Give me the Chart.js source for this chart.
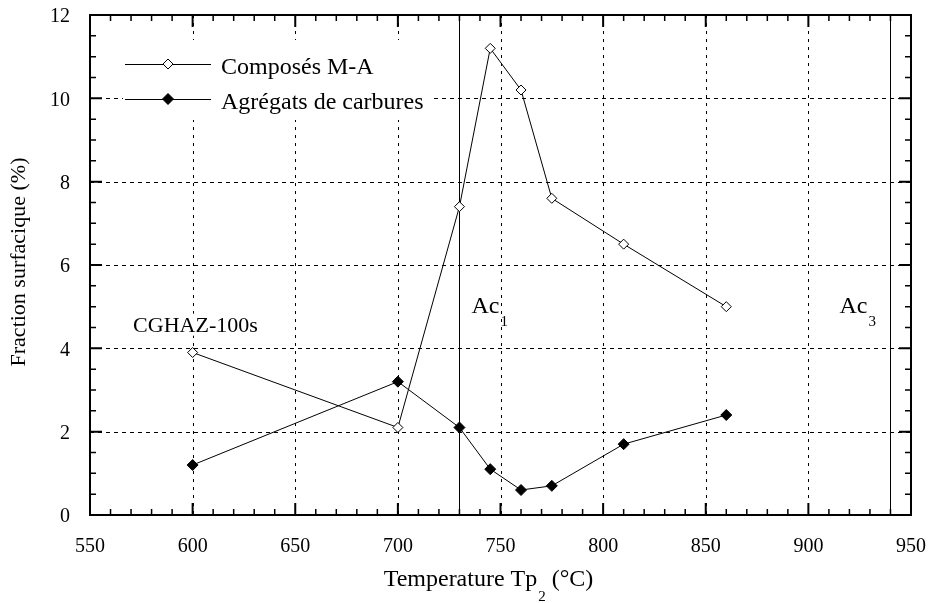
<!DOCTYPE html>
<html>
<head>
<meta charset="utf-8">
<script src="https://cdn.jsdelivr.net/npm/chart.js@4/dist/chart.umd.min.js"></script>
<style>
html,body{margin:0;padding:0;background:#fff;}
canvas{display:block;}
</style>
</head>
<body>
<canvas id="c" width="929" height="603"></canvas>
<script>
// ---- data ----
const temperatures = [600, 700, 730, 745, 760, 775, 810, 860];
const composesMA   = [3.9, 2.1, 7.4, 11.2, 10.2, 7.6, 6.5, 5.0];
const agregats     = [1.2, 3.2, 2.1, 1.1, 0.6, 0.7, 1.7, 2.4];
const transformTemps = [730, 940];           // Ac1, Ac3
const transformNames = ['Ac', 'Ac'];
const transformSubs  = ['1', '3'];
const seriesNames = ['Composés M-A', 'Agrégats de carbures'];
const xTitle = 'Temperature Tp';
const xTitleSub = '2';
const xTitleEnd = ' (°C)';
const yTitle = 'Fraction surfacique (%)';
const sampleLabel = 'CGHAZ-100s';

const SERIF = '"Liberation Serif", "DejaVu Serif", serif';

const toPts = (xs, ys) => xs.map((x, i) => ({x: x, y: ys[i]}));

const framePlugin = {
  id: 'frame',
  beforeDatasetsDraw(chart) {
    const {ctx, chartArea: a, scales: {x, y}} = chart;
    ctx.save();
    ctx.strokeStyle = '#000';
    ctx.lineWidth = 1;
    ctx.setLineDash([3, 5]);
    x.ticks.forEach(t => {
      if (t.value <= x.min || t.value >= x.max) return;
      const px = Math.round(x.getPixelForValue(t.value)) + 0.5;
      ctx.beginPath(); ctx.moveTo(px, a.top); ctx.lineTo(px, a.bottom); ctx.stroke();
    });
    ctx.setLineDash([4, 4]);
    y.ticks.forEach(t => {
      if (t.value <= y.min || t.value >= y.max) return;
      const py = Math.round(y.getPixelForValue(t.value)) + 0.5;
      ctx.beginPath(); ctx.moveTo(a.left, py); ctx.lineTo(a.right, py); ctx.stroke();
    });
    ctx.setLineDash([]);
    transformTemps.forEach(T => {
      const px = Math.round(x.getPixelForValue(T)) + 0.5;
      ctx.beginPath(); ctx.moveTo(px, a.top); ctx.lineTo(px, a.bottom); ctx.stroke();
    });
    // white backing for the sample label and the legend
    ctx.font = '22px ' + SERIF;
    const cx = x.getPixelForValue(571), cy = y.getPixelForValue(4.4);
    const cw = ctx.measureText(sampleLabel).width;
    ctx.fillStyle = '#fff';
    ctx.fillRect(cx - 2, cy - 18, cw + 4, 22);
    ctx.fillRect(123, 40, 310, 80);
    ctx.restore();
  },
  afterDatasetsDraw(chart) {
    const {ctx, chartArea: a, scales: {x, y}} = chart;
    ctx.save();
    ctx.strokeStyle = '#000';
    // inside tick marks (minor every 10 / 0.5)
    for (let v = x.min; v <= x.max + 1e-9; v += 10) {
      const major = Math.abs(v % 50) < 1e-9;
      const len = major ? 12 : 6;
      ctx.lineWidth = major ? 2 : 1.5;
      const px = x.getPixelForValue(v);
      ctx.beginPath();
      ctx.moveTo(px, a.bottom); ctx.lineTo(px, a.bottom - len);
      ctx.moveTo(px, a.top); ctx.lineTo(px, a.top + len);
      ctx.stroke();
    }
    for (let v = y.min; v <= y.max + 1e-9; v += 0.5) {
      const major = Math.abs(v % 2) < 1e-9;
      const len = major ? 12 : 6;
      ctx.lineWidth = major ? 2 : 1.5;
      const py = y.getPixelForValue(v);
      ctx.beginPath();
      ctx.moveTo(a.left, py); ctx.lineTo(a.left + len, py);
      ctx.moveTo(a.right, py); ctx.lineTo(a.right - len, py);
      ctx.stroke();
    }
    ctx.lineWidth = 2;
    ctx.strokeRect(a.left, a.top, a.right - a.left, a.bottom - a.top);

    ctx.fillStyle = '#000';
    // tick labels from the scales
    ctx.font = '20px ' + SERIF;
    ctx.textAlign = 'center';
    ctx.textBaseline = 'middle';
    x.ticks.forEach(t => {
      ctx.fillText(String(t.value), x.getPixelForValue(t.value), a.bottom + 32);
    });
    ctx.textAlign = 'right';
    y.ticks.forEach(t => {
      ctx.fillText(String(t.value), a.left - 20, y.getPixelForValue(t.value) + 2);
    });

    // axis titles
    ctx.textBaseline = 'alphabetic';
    ctx.font = '24px ' + SERIF;
    const w1 = ctx.measureText(xTitle).width;
    ctx.font = '15px ' + SERIF;
    const w2 = ctx.measureText(xTitleSub).width;
    ctx.font = '24px ' + SERIF;
    const w3 = ctx.measureText(xTitleEnd).width;
    const total = w1 + w2 + w3 + 1;
    const sx = (a.left + a.right) / 2 - 12 - total / 2;
    const by = 586;
    ctx.textAlign = 'left';
    ctx.fillText(xTitle, sx, by);
    ctx.font = '15px ' + SERIF;
    ctx.fillText(xTitleSub, sx + w1 + 1, by + 15);
    ctx.font = '24px ' + SERIF;
    ctx.fillText(xTitleEnd, sx + w1 + w2 + 1, by);

    ctx.save();
    ctx.font = '22px ' + SERIF;
    ctx.translate(25, 262);
    ctx.rotate(-Math.PI / 2);
    ctx.textAlign = 'center';
    ctx.fillText(yTitle, 0, 0);
    ctx.restore();

    // annotations anchored to data coordinates
    ctx.textAlign = 'left';
    ctx.font = '22px ' + SERIF;
    ctx.fillText(sampleLabel, x.getPixelForValue(571), y.getPixelForValue(4.4));
    transformTemps.forEach((T, i) => {
      const px = x.getPixelForValue(T);
      const tx = i === 0 ? px + 12 : px - 51;
      const ty = y.getPixelForValue(4.85);
      ctx.font = '24px ' + SERIF;
      ctx.fillText(transformNames[i], tx, ty);
      const wa = ctx.measureText(transformNames[i]).width;
      ctx.font = '15px ' + SERIF;
      ctx.fillText(transformSubs[i], tx + wa + 1, ty + 13);
    });

    // legend
    const rows = [64, 99];
    chart.data.datasets.forEach((ds, i) => {
      const ly = rows[i];
      ctx.lineWidth = 1;
      ctx.strokeStyle = '#000';
      ctx.beginPath(); ctx.moveTo(125, ly + 0.5); ctx.lineTo(211, ly + 0.5); ctx.stroke();
      const r = ds.pointRadius;
      ctx.beginPath();
      ctx.moveTo(168 - r, ly); ctx.lineTo(168, ly - r); ctx.lineTo(168 + r, ly); ctx.lineTo(168, ly + r); ctx.closePath();
      ctx.fillStyle = ds.pointBackgroundColor; ctx.fill();
      ctx.strokeStyle = '#000'; ctx.stroke();
      ctx.fillStyle = '#000';
      ctx.font = '24px ' + SERIF;
      ctx.fillText(ds.label, 221, ly + 10);
    });
    ctx.restore();
  }
};

new Chart(document.getElementById('c'), {
  type: 'scatter',
  data: {
    datasets: [
      {
        label: seriesNames[0],
        data: toPts(temperatures, composesMA),
        showLine: true,
        borderColor: '#000',
        borderWidth: 1,
        pointStyle: 'rectRot',
        pointRadius: 5,
        pointBackgroundColor: '#fff',
        pointBorderColor: '#000',
        pointBorderWidth: 1,
        tension: 0
      },
      {
        label: seriesNames[1],
        data: toPts(temperatures, agregats),
        showLine: true,
        borderColor: '#000',
        borderWidth: 1,
        pointStyle: 'rectRot',
        pointRadius: 5.5,
        pointBackgroundColor: '#000',
        pointBorderColor: '#000',
        pointBorderWidth: 1,
        tension: 0
      }
    ]
  },
  options: {
    responsive: false,
    animation: false,
    devicePixelRatio: 1,
    layout: {padding: {left: 90, right: 18, top: 15, bottom: 88}},
    plugins: {legend: {display: false}, tooltip: {enabled: false}},
    scales: {
      x: {
        type: 'linear', min: 550, max: 950,
        ticks: {stepSize: 50, display: false},
        grid: {display: false, drawTicks: false},
        border: {display: false}
      },
      y: {
        type: 'linear', min: 0, max: 12,
        ticks: {stepSize: 2, display: false},
        grid: {display: false, drawTicks: false},
        border: {display: false}
      }
    }
  },
  plugins: [framePlugin]
});
</script>
</body>
</html>
